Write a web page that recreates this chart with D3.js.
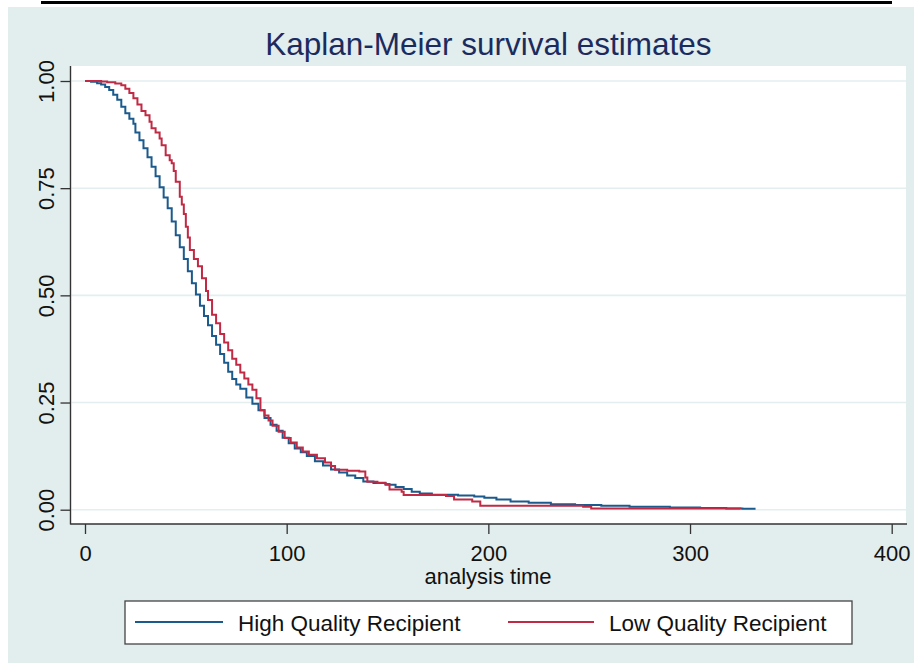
<!DOCTYPE html>
<html>
<head>
<meta charset="utf-8">
<script src="https://cdn.jsdelivr.net/npm/d3@7/dist/d3.min.js"></script>
<style>
  html, body { margin: 0; padding: 0; background: #ffffff; }
  svg { display: block; font-family: "Liberation Sans", Arial, sans-serif; }
</style>
</head>
<body>
<svg id="chart" width="914" height="663"></svg>
<script>
// ---------- data ----------
const chartTitle = "Kaplan-Meier survival estimates";
const xAxisTitle = "analysis time";
const seriesNames = ["High Quality Recipient", "Low Quality Recipient"];
const seriesColors = ["#1b5a8c", "#c02a44"];

const xTicks = [0, 100, 200, 300, 400];
const yTicks = [0, 0.25, 0.5, 0.75, 1];
const yTickLabels = ["0.00", "0.25", "0.50", "0.75", "1.00"];

// High Quality Recipient (blue)
const hqTime = [0, 3, 6, 8, 10, 12, 14, 16, 18, 20, 22, 24, 25, 27, 29, 31, 33, 35, 37, 39, 41, 43, 45, 47, 49, 51, 53, 55, 57, 59, 61, 63, 65, 67, 69, 71, 73, 75, 77, 80, 83, 86, 89, 92, 95, 98, 101, 104, 107, 110, 114, 118, 122, 126, 130, 134, 138, 143, 149, 154, 158, 162, 166, 172, 185, 193, 198, 204, 211, 220, 231, 243, 256, 270, 290, 305, 318, 326, 332];
const hqSurv = [1.000, 0.998, 0.995, 0.992, 0.986, 0.979, 0.968, 0.956, 0.940, 0.925, 0.912, 0.900, 0.880, 0.862, 0.843, 0.822, 0.800, 0.778, 0.752, 0.728, 0.703, 0.672, 0.640, 0.612, 0.585, 0.556, 0.528, 0.502, 0.476, 0.452, 0.430, 0.405, 0.385, 0.363, 0.343, 0.322, 0.305, 0.292, 0.282, 0.262, 0.247, 0.232, 0.214, 0.198, 0.184, 0.168, 0.155, 0.143, 0.134, 0.125, 0.113, 0.103, 0.094, 0.087, 0.080, 0.074, 0.066, 0.062, 0.058, 0.053, 0.048, 0.042, 0.038, 0.035, 0.033, 0.031, 0.028, 0.024, 0.019, 0.016, 0.013, 0.011, 0.009, 0.007, 0.005, 0.004, 0.003, 0.002, 0.000];

// Low Quality Recipient (red)
const lqTime = [0, 8, 11, 15, 18, 20, 22, 24, 26, 28, 30, 32, 33, 35, 37, 38, 40, 42, 43, 44, 45, 47, 48, 49, 50, 51, 52, 54, 56, 58, 60, 61, 63, 65, 67, 69, 71, 73, 75, 77, 79, 81, 83, 85, 87, 89, 91, 93, 96, 99, 102, 105, 108, 111, 115, 119, 122, 124, 130, 136, 139, 140, 145, 149, 151, 157, 158, 179, 183, 192, 196, 247, 251, 325];
const lqSurv = [1.000, 0.999, 0.997, 0.994, 0.990, 0.982, 0.972, 0.960, 0.945, 0.930, 0.920, 0.905, 0.890, 0.880, 0.866, 0.850, 0.827, 0.815, 0.808, 0.790, 0.765, 0.730, 0.712, 0.690, 0.660, 0.635, 0.606, 0.585, 0.568, 0.540, 0.510, 0.489, 0.455, 0.435, 0.410, 0.390, 0.372, 0.352, 0.338, 0.320, 0.306, 0.292, 0.280, 0.260, 0.232, 0.220, 0.208, 0.196, 0.182, 0.167, 0.157, 0.145, 0.136, 0.128, 0.120, 0.110, 0.102, 0.093, 0.091, 0.089, 0.075, 0.065, 0.063, 0.060, 0.047, 0.042, 0.034, 0.032, 0.024, 0.019, 0.009, 0.007, 0.003, 0.002];

// ---------- drawing ----------
const svg = d3.select("#chart");
const W = 914, H = 663;

// outer background
svg.append("rect").attr("x", 0).attr("y", 0).attr("width", W).attr("height", H).attr("fill", "#ffffff");
svg.append("rect").attr("x", 8).attr("y", 7).attr("width", W - 8).attr("height", H - 7).attr("fill", "#e2eded");
// rule left over from the surrounding document
svg.append("rect").attr("x", 41).attr("y", 1).attr("width", 851).attr("height", 3).attr("fill", "#000");

// plot region
const plot = { left: 70.5, right: 906, top: 66, bottom: 524 };
svg.append("rect")
  .attr("x", plot.left).attr("y", plot.top)
  .attr("width", plot.right - plot.left).attr("height", plot.bottom - plot.top)
  .attr("fill", "#ffffff");

const x = d3.scaleLinear().domain([0, 400]).range([85, 891.7]);
const y = d3.scaleLinear().domain([0, 1]).range([509.7, 81]);

// gridlines
svg.append("g").selectAll("line").data(yTicks).join("line")
  .attr("x1", plot.left + 1).attr("x2", plot.right)
  .attr("y1", d => y(d)).attr("y2", d => y(d))
  .attr("stroke", "#e4eeef").attr("stroke-width", 1.6);

// curves
const line = d3.line().x(d => x(d[0])).y(d => y(d[1])).curve(d3.curveStepAfter);
const series = [
  { name: seriesNames[0], color: seriesColors[0], pts: d3.zip(hqTime, hqSurv) },
  { name: seriesNames[1], color: seriesColors[1], pts: d3.zip(lqTime, lqSurv) }
];
svg.append("g").selectAll("path").data(series).join("path")
  .attr("d", d => line(d.pts))
  .attr("fill", "none")
  .attr("stroke", d => d.color)
  .attr("stroke-width", 2)
  .attr("stroke-linejoin", "miter");

// axes
const xAxis = d3.axisBottom(x).tickValues(xTicks).tickFormat(d3.format("d")).tickSize(10).tickPadding(11);
const gx = svg.append("g").attr("transform", `translate(0,${plot.bottom})`).call(xAxis);
gx.select(".domain").remove();
gx.selectAll(".tick line").attr("stroke", "#333").attr("stroke-width", 1.3);
gx.selectAll(".tick text").attr("fill", "#111").style("font-size", "22px").style("font-family", "'Liberation Sans', Arial, sans-serif");

const yAxis = d3.axisLeft(y).tickValues(yTicks).tickFormat((d, i) => yTickLabels[i]).tickSize(10);
const gy = svg.append("g").attr("transform", `translate(${plot.left},0)`).call(yAxis);
gy.select(".domain").remove();
gy.selectAll(".tick line").attr("stroke", "#333").attr("stroke-width", 1.3);
gy.selectAll(".tick text")
  .attr("transform", "rotate(-90)")
  .attr("x", 0).attr("y", -17).attr("dy", 0)
  .attr("text-anchor", "middle")
  .attr("fill", "#111")
  .style("font-size", "22px").style("font-family", "'Liberation Sans', Arial, sans-serif");

// axis lines
svg.append("line").attr("x1", plot.left).attr("x2", plot.left).attr("y1", plot.top).attr("y2", plot.bottom + 0.6)
  .attr("stroke", "#333").attr("stroke-width", 1.4);
svg.append("line").attr("x1", plot.left).attr("x2", 907).attr("y1", plot.bottom).attr("y2", plot.bottom)
  .attr("stroke", "#333").attr("stroke-width", 1.4);

// title
svg.append("text").attr("x", 488.4).attr("y", 55).attr("text-anchor", "middle")
  .attr("fill", "#1c2b5e").style("font-size", "31.5px").text(chartTitle);

// x axis title
svg.append("text").attr("x", 488).attr("y", 584).attr("text-anchor", "middle")
  .attr("fill", "#111").style("font-size", "22px").text(xAxisTitle);

// legend
const lg = svg.append("g");
lg.append("rect").attr("x", 125).attr("y", 601).attr("width", 727).attr("height", 43)
  .attr("fill", "#ffffff").attr("stroke", "#444").attr("stroke-width", 1.3);
const legendItems = [
  { name: seriesNames[0], color: seriesColors[0], x1: 135, x2: 223, tx: 238 },
  { name: seriesNames[1], color: seriesColors[1], x1: 508, x2: 594, tx: 609 }
];
lg.selectAll("line.sw").data(legendItems).join("line").attr("class", "sw")
  .attr("x1", d => d.x1).attr("x2", d => d.x2).attr("y1", 622).attr("y2", 622)
  .attr("stroke", d => d.color).attr("stroke-width", 2);
lg.selectAll("text").data(legendItems).join("text")
  .attr("x", d => d.tx).attr("y", 631).attr("fill", "#111")
  .style("font-size", "22.5px").text(d => d.name);
</script>
</body>
</html>
